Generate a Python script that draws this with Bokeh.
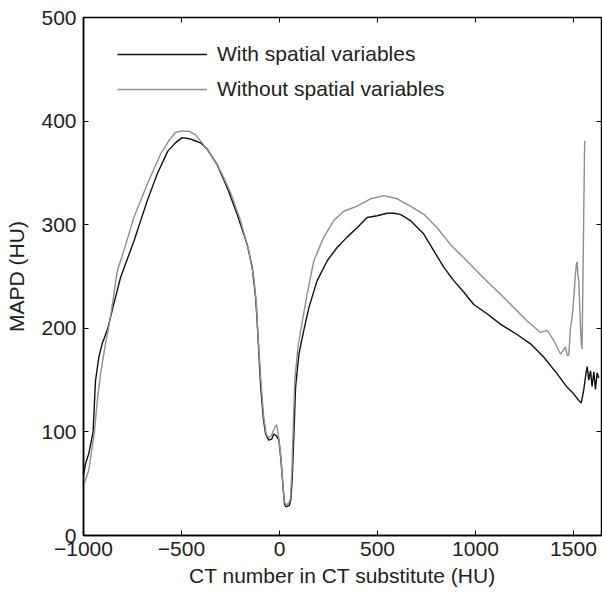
from bokeh.plotting import figure
from bokeh.models import LinearAxis, Range1d, Legend, LegendItem, FixedTicker
from bokeh.embed import file_html
from bokeh.resources import INLINE

x_ticks = [-1000, -500, 0, 500, 1000, 1500]
x_tick_labels = ["\u22121000", "\u2212500", "0", "500", "1000", "1500"]
y_ticks = [0, 100, 200, 300, 400, 500]
y_tick_labels = ["0", "100", "200", "300", "400", "500"]

series_names = ["With spatial variables", "Without spatial variables"]

with_x = [-1000, -990, -973, -951, -939, -922, -905, -879, -854, -811, -743, -675,
          -624, -570, -531, -497, -460, -437, -403, -369, -318, -267, -216, -165,
          -139, -122, -114, -97, -83, -71, -55, -40, -29, -15, -3, 8, 18, 26, 32,
          39, 50, 58, 65, 73, 82, 99, 124, 150, 192, 243, 294, 345, 396, 447, 498,
          549, 583, 617, 668, 736, 787, 838, 889, 940, 991, 1059, 1127, 1212, 1281,
          1349, 1417, 1468, 1500, 1524, 1540, 1552, 1565, 1570, 1578, 1587, 1595,
          1604, 1612, 1621, 1629]
with_y = [58, 69, 79, 100, 149, 172, 185, 198, 217, 249, 284, 323,
          349, 371, 379, 384, 383, 381.5, 379, 373, 358, 336, 310, 281,
          259, 230, 207, 147, 114, 98, 92, 93, 98, 96, 92, 72, 47, 30, 28,
          28, 29, 35, 55, 95, 143, 175, 198, 220, 246, 265, 278, 288, 297, 307, 308.6,
          311, 311, 310, 304, 291, 275, 259, 246, 235, 223, 214, 204, 194, 185,
          172, 156, 143, 137, 131, 128, 140, 158, 163, 150, 159, 144,
          158, 141, 157, 152]

without_x = [-1000, -995, -973, -956, -944, -930, -913, -888, -862, -828, -794, -743,
             -675, -607, -565, -531, -497, -460, -429, -395, -352, -301, -250, -199,
             -157, -131, -117, -112, -95, -81, -68, -55, -40, -25, -15, -5, 5, 15, 24,
             32, 39, 50, 56, 63, 70, 78, 95, 115, 141, 175, 226, 277, 328, 396, 464,
             532, 600, 668, 736, 804, 872, 940, 1008, 1077, 1127, 1195, 1264, 1332,
             1366, 1400, 1434, 1459, 1468, 1476, 1485, 1493, 1498, 1510, 1515, 1519,
             1523, 1527, 1536, 1540, 1544, 1557]
without_y = [50, 51, 63, 85, 100, 130, 156, 185, 211, 255, 275, 307,
             339, 368, 381, 389, 390.5, 390, 387, 379, 368, 352, 331, 304,
             275, 249, 222, 200, 150, 115, 98, 94, 97, 104, 107, 96, 80, 55, 33,
             30, 30, 32, 36, 60, 105, 150, 183, 205, 233, 265, 288, 304, 313, 318, 325,
             328, 325, 318, 310, 297, 281, 268, 255, 242, 233, 220, 207, 196,
             198, 188, 175, 182, 174, 174, 201, 210, 220, 252, 262, 264,
             250, 246, 201, 185, 180, 381]

FONT = "Liberation Sans"
TXT = "#222222"
FS = "21px"

p = figure(width=602, height=594, output_backend="svg", toolbar_location=None,
           x_range=Range1d(-1000, 1643), y_range=Range1d(0, 500),
           min_border_left=83, min_border_right=1, min_border_top=17,
           min_border_bottom=59)
p.grid.visible = False
p.outline_line_color = "black"
p.outline_line_width = 1.5
p.background_fill_color = "white"
p.border_fill_color = "white"

r1 = p.line(with_x, with_y, line_color="#111111", line_width=1.4)
r2 = p.line(without_x, without_y, line_color="#8f8f8f", line_width=1.4)

xa = p.xaxis[0]
ya = p.yaxis[0]
xa.ticker = FixedTicker(ticks=x_ticks)
ya.ticker = FixedTicker(ticks=y_ticks)
xa.major_label_overrides = {t: l for t, l in zip(x_ticks, x_tick_labels)}
ya.major_label_overrides = {t: l for t, l in zip(y_ticks, y_tick_labels)}
xa.axis_label = "CT number in CT substitute (HU)"
ya.axis_label = "MAPD (HU)"
for ax in (xa, ya):
    ax.axis_line_color = "black"
    ax.axis_line_width = 1.5
    ax.major_tick_in = 5
    ax.major_tick_out = 0
    ax.major_tick_line_color = "black"
    ax.minor_tick_line_color = None
    ax.major_label_text_font = FONT
    ax.major_label_text_font_size = FS
    ax.major_label_text_color = TXT
    ax.axis_label_text_font = FONT
    ax.axis_label_text_font_size = FS
    ax.axis_label_text_font_style = "normal"
    ax.axis_label_text_color = TXT
xa.major_label_standoff = 6
xa.axis_label_standoff = 5
ya.major_label_standoff = 7
ya.axis_label_standoff = 10

ra = LinearAxis(ticker=FixedTicker(ticks=y_ticks))
ta = LinearAxis(ticker=FixedTicker(ticks=x_ticks))
for ax in (ra, ta):
    ax.axis_line_color = None
    ax.major_tick_in = 5
    ax.major_tick_out = 0
    ax.major_tick_line_color = "black"
    ax.minor_tick_line_color = None
    ax.major_label_text_font_size = "0px"
    ax.major_label_text_color = None
    ax.major_label_standoff = 0
p.add_layout(ra, "right")
p.add_layout(ta, "above")

legend = Legend(items=[LegendItem(label=series_names[0], renderers=[r1]),
                       LegendItem(label=series_names[1], renderers=[r2])],
                location=(34, 433), glyph_width=90, glyph_height=26,
                label_height=26, label_standoff=10, spacing=9, padding=0,
                margin=0, border_line_color=None, background_fill_alpha=0,
                label_text_font=FONT, label_text_font_size=FS,
                label_text_color=TXT)
p.add_layout(legend)

open("out.html", "w").write(file_html(p, INLINE))
